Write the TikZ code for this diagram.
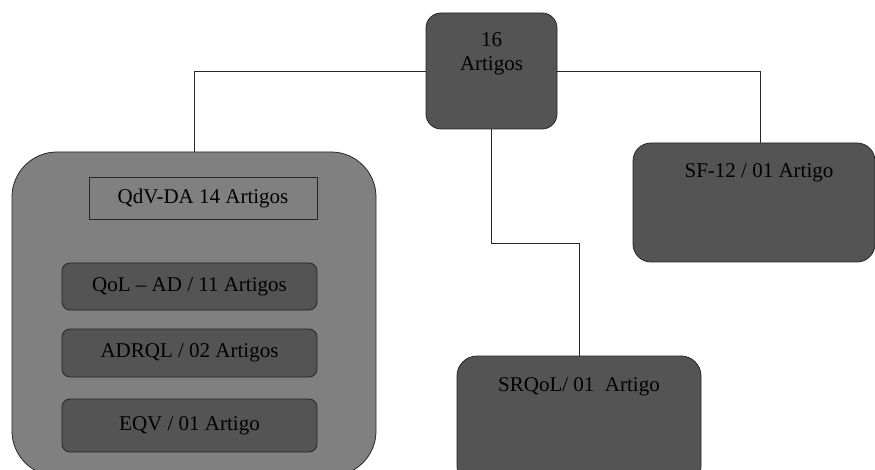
\documentclass[tikz,border=0pt]{standalone}
\usepackage{fontspec}
\setmainfont{Liberation Serif}
\begin{document}
\begin{tikzpicture}[x=1pt,y=-1pt,
  every node/.style={font=\fontsize{21}{24}\selectfont},
  box/.style={draw=black!85, line width=0.8pt, rounded corners=#1, inner sep=0pt},
  darkbox/.style={box=#1, fill=black!67},
  conn/.style={draw=black!85, line width=0.9pt},
  toptext/.style={anchor=base, inner sep=0pt}
]
\useasboundingbox (0,0) rectangle (875,470);
\clip (0,0) rectangle (875,470);
% boxes
\node[darkbox=15pt, minimum width=131pt, minimum height=116pt,
      label={[toptext, align=center, yshift=-58pt]north:{16\\Artigos}}] (top) at (491.5,71) {};
\node[box=45pt, fill=black!50, minimum width=364pt, minimum height=324pt] (big) at (194,314) {};
\node[draw=black!85, line width=0.8pt, minimum width=228pt, minimum height=42pt, inner sep=0pt] (qdv) at (203,198) {QdV-DA 14 Artigos};
\node[darkbox=8pt, minimum width=255pt, minimum height=47pt] (qol) at (189.5,286.5) {QoL -- AD / 11 Artigos};
\node[darkbox=8pt, minimum width=255pt, minimum height=48pt] (adrql) at (189.5,353) {ADRQL / 02 Artigos};
\node[darkbox=8pt, minimum width=255pt, minimum height=53pt] (eqv) at (189.5,425.5) {EQV / 01 Artigo};
\node[darkbox=20pt, minimum width=244pt, minimum height=130pt,
      label={[toptext, yshift=-36pt]north:{SRQoL/ 01~~Artigo}}] (sr) at (579,421) {};
\node[darkbox=18pt, minimum width=242pt, minimum height=119pt,
      label={[toptext, yshift=-35pt, xshift=5pt]north:{SF-12 / 01 Artigo}}] (sf) at (754,202.5) {};
% connectors
\draw[conn] (top.west) -| (big.north);
\draw[conn] (top.east) -| ([xshift=6pt]sf.north);
\draw[conn] (top.south) -- ++(0,114) -| (sr.north);
\end{tikzpicture}
\end{document}
